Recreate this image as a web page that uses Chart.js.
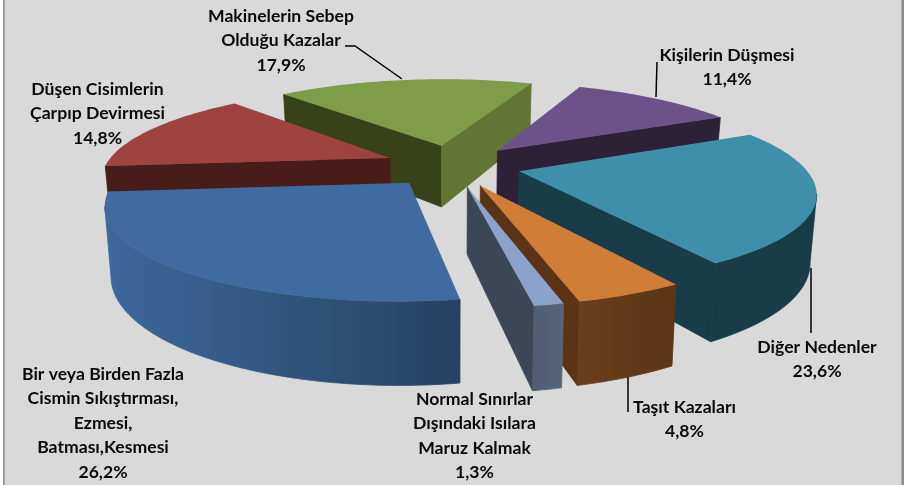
<!DOCTYPE html>
<html><head><meta charset="utf-8">
<style>html,body{margin:0;padding:0;background:#fff}canvas{display:block}</style>
<script src="https://cdn.jsdelivr.net/npm/chart.js@4"></script></head>
<body><canvas id="c" width="909" height="485"></canvas>
<script>
const categories = [
  ["Makinelerin Sebep","Olduğu Kazalar"],
  ["Kişilerin Düşmesi"],
  ["Diğer Nedenler"],
  ["Taşıt Kazaları"],
  ["Normal Sınırlar","Dışındaki Isılara","Maruz Kalmak"],
  ["Bir veya Birden Fazla","Cismin Sıkıştırması,","Ezmesi,","Batması,Kesmesi"],
  ["Düşen Cisimlerin","Çarpıp Devirmesi"]
];
const values = [17.9, 11.4, 23.6, 4.8, 1.3, 26.2, 14.8];
const topColors   = ["#7F9C49","#6B5389","#3E8FA9","#CF7D37","#8BA2CA","#406BA1","#9F4340"];
const startWalls  = ["#384219","#2D2137","#193C49","#5C3415","#3B4657","#2A4568","#471C19"];
const endWalls    = ["#637535","#2D2137","#193C49","#5C3415","#3B4657","#2A4568","#471C19"];
const outerStart  = ["#637535","#2D2137","#193C49","#5A3516","#566579","#264261","#471C19"];
const outerEnd    = ["#637535","#2D2137","#193C49","#6A3F1B","#4F5E74","#3D689C","#471C19"];
const drawOrder   = [0,1,6,2,3,4,5];
const labelAnchors = [[281,16],[727,55],[817,347],[684.5,407],[474.5,399],[103,374],[97.5,89]];
const leaders = [[[345,46],[355,46],[402,79]],[[657,62],[656,97]],[[811,268],[811,333]],[[628,377],[628,412]]];
const lineGap = 24.5;
const view = {cx:452.5, cy:165.5, sx:284.5, sy:87, px:0.2, py:0.2, depth:64, lean:0.982};

function proj(X,Y){return [view.cx+X*view.sx/(1-view.px*Y), view.cy+Y*view.sy/(1-view.py*Y), Y];}
function drop(p){return [view.cx+(p[0]-view.cx)*view.lean, p[1]+view.depth/(1-view.py*p[2])];}
function poly(ctx,pts,col){ctx.beginPath();pts.forEach((p,i)=>i?ctx.lineTo(p[0],p[1]):ctx.moveTo(p[0],p[1]));ctx.closePath();ctx.fillStyle=col;ctx.strokeStyle=col;ctx.lineWidth=.8;ctx.fill();ctx.stroke();}

const pie3d = {
  id:"pie3d",
  beforeDraw(chart){
    const g=chart.ctx;
    g.save();g.fillStyle="#fff";g.fillRect(0,0,909,485);
    g.fillStyle="#D9D9D9";g.fillRect(3,0,900,485);
    g.fillStyle="#8C8C8C";g.fillRect(3,0,1.6,485);g.fillRect(901.5,0,2.5,485);
    g.restore();
  },
  beforeDatasetsDraw(chart){
    const g=chart.ctx, arcs=chart.getDatasetMeta(0).data;
    g.save();
    drawOrder.forEach(i=>{
      const a=arcs[i], R=a.outerRadius, e=a.options.offset/R;
      const mid=(a.startAngle+a.endAngle)/2, ox=Math.cos(mid)*e, oy=Math.sin(mid)*e;
      const apex=proj(ox,oy), n=Math.max(8,Math.round((a.endAngle-a.startAngle)*40)), rim=[];
      for(let k=0;k<=n;k++){const t=a.startAngle+(a.endAngle-a.startAngle)*k/n;rim.push(proj(ox+Math.cos(t),oy+Math.sin(t)));}
      const s=rim[0], f=rim[n];
      if(s[0]<apex[0]) poly(g,[apex,s,drop(s),drop(apex)],startWalls[i]);
      if(f[0]>apex[0]) poly(g,[f,apex,drop(apex),drop(f)],endWalls[i]);
      const front=[];
      for(let k=0;k<n;k++){ if(rim[k+1][0]<rim[k][0]){ if(!front.length) front.push(rim[k]); front.push(rim[k+1]); } }
      if(front.length){
        const x0=front[0][0], x1=front[front.length-1][0], grad=g.createLinearGradient(x0,0,x1,0);
        grad.addColorStop(0,outerStart[i]);grad.addColorStop(1,outerEnd[i]);
        poly(g,[...front,...front.slice().reverse().map(drop)],grad);
      }
      g.beginPath();g.moveTo(apex[0],apex[1]);rim.forEach(p=>g.lineTo(p[0],p[1]));g.closePath();
      g.fillStyle=topColors[i];g.fill();
    });
    g.restore();
    return false;
  },
  afterDraw(chart){
    const g=chart.ctx;
    g.save();
    g.strokeStyle="#000";g.lineWidth=1.5;
    leaders.forEach(l=>{g.beginPath();l.forEach((p,i)=>i?g.lineTo(p[0],p[1]):g.moveTo(p[0],p[1]));g.stroke();});
    g.fillStyle="#0a0a0a";g.font='bold 17.6px Lato';g.textAlign="center";g.textBaseline="middle";
    categories.forEach((lines,i)=>{
      const [x,y]=labelAnchors[i];
      [...lines,values[i].toFixed(1).replace(".",",")+"%"].forEach((t,j)=>g.fillText(t,x,y+j*lineGap));
    });
    g.restore();
  }
};

new Chart(document.getElementById("c"),{
  type:"pie",
  data:{labels:categories.map(l=>l.join(" ")),datasets:[{data:values,backgroundColor:topColors,borderWidth:0,offset:52}]},
  options:{responsive:false,animation:false,rotation:318,
    layout:{padding:0},
    plugins:{legend:{display:false},tooltip:{enabled:false}}},
  plugins:[pie3d]
});
</script></body></html>
